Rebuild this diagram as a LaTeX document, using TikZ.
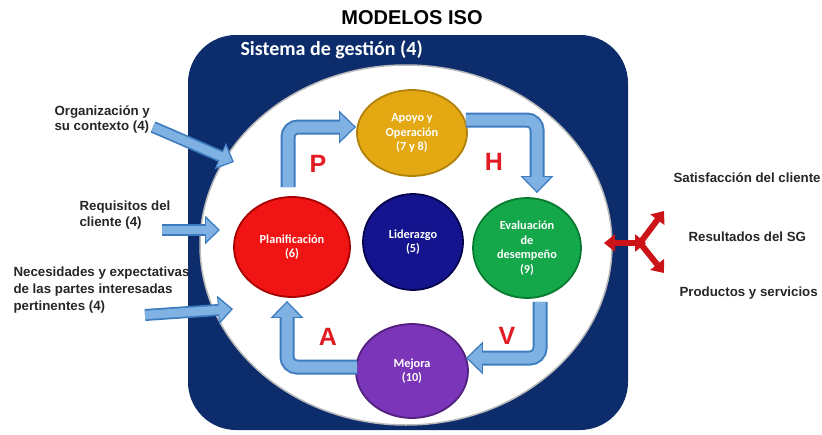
\documentclass[tikz,border=0pt]{standalone}
\usepackage{fontspec}
\setmainfont{Liberation Sans}
\newfontfamily\calfont{Carlito}
\usetikzlibrary{arrows.meta,shapes.geometric}
\definecolor{navybox}{HTML}{0C2C6C}
\definecolor{goldc}{HTML}{E3A812}
\definecolor{goldd}{HTML}{B0820A}
\definecolor{redc}{HTML}{F01414}
\definecolor{redd}{HTML}{A80000}
\definecolor{bluec}{HTML}{14148F}
\definecolor{blued}{HTML}{05054F}
\definecolor{greenc}{HTML}{14A84A}
\definecolor{greend}{HTML}{0B7A30}
\definecolor{purc}{HTML}{7B35B8}
\definecolor{purd}{HTML}{52207F}
\definecolor{arrblue}{HTML}{7FB2E2}
\definecolor{arredge}{HTML}{3E7CC0}
\definecolor{letred}{HTML}{E31B23}
\definecolor{arrred}{HTML}{CC1418}
\definecolor{txtgray}{HTML}{262626}
\begin{document}
\begin{tikzpicture}[x=1pt,y=-1pt,
  circ/.style={ellipse, inner sep=0pt, line width=1.8pt, text=white, align=center,
    font=\calfont\bfseries\fontsize{12.3}{14.5}\selectfont},
  bigarr/.style={line width=11pt, draw=arrblue, rounded corners=10pt, shorten >=2pt,
    -{Triangle[width=26pt,length=14pt]},
    preaction={draw=arredge, line width=15pt, shorten >=0pt,
      -{Triangle[width=32pt,length=17pt]}}},
  smallarr/.style={line width=8.5pt, draw=arrblue, shorten >=2pt,
    -{Triangle[width=22pt,length=12pt]},
    preaction={draw=arredge, line width=12pt, shorten >=0pt,
      -{Triangle[width=28pt,length=15pt]}}},
  redarr/.style={line width=6pt, draw=arrred},
  sidetxt/.style={anchor=west, align=left, text=txtgray,
    font=\bfseries\fontsize{13.3}{15}\selectfont},
  rtxt/.style={anchor=west, text=txtgray, font=\bfseries\fontsize{13.3}{15}\selectfont},
  letter/.style={text=letred, font=\bfseries\fontsize{25}{25}\selectfont}
]
\useasboundingbox (0,0) rectangle (822,434);

% title
\node[font=\bfseries\fontsize{20}{20}\selectfont] (title) at (412,18) {MODELOS ISO};

% management system box
\node[rectangle, rounded corners=48pt, fill=navybox, minimum width=440pt,
  minimum height=395pt, inner sep=0pt] (box) at (408,232.5) {};
\node[anchor=west, text=white, font=\calfont\bfseries\fontsize{20}{20}\selectfont]
  (sg) at (237,50) {Sistema de gestión (4)};

% white ellipse
\node[ellipse, fill=white, draw=gray!55, line width=1.5pt, inner sep=0pt,
  minimum width=412pt, minimum height=360pt] (env) at (406,245) {};

% circles
\node[circ, fill=goldc, draw=goldd, minimum width=110pt, minimum height=86pt]
  (apoyo) at (412,133) {Apoyo y\\Operación\\(7 y 8)};
\node[circ, fill=redc, draw=redd, minimum width=116pt, minimum height=100pt]
  (plan) at (292,247) {Planificación\\(6)};
\node[circ, fill=bluec, draw=blued, minimum width=100pt, minimum height=96pt]
  (lid) at (413,242) {Liderazgo\\(5)};
\node[circ, fill=greenc, draw=greend, minimum width=108pt, minimum height=100pt]
  (eval) at (527,248) {Evaluación\\de\\desempeño\\(9)};
\node[circ, fill=purc, draw=purd, minimum width=112pt, minimum height=94pt]
  (mejora) at (412,371) {Mejora\\(10)};

% PHVA cycle arrows
\draw[bigarr] ([xshift=-4pt,yshift=9pt]plan.north) |- ([yshift=6pt]apoyo.west);
\draw[bigarr] ([xshift=-2pt,yshift=13pt]apoyo.east) -| ([xshift=10pt,yshift=4pt]eval.north);
\draw[bigarr] ([xshift=13pt,yshift=-3pt]eval.south) |- ([xshift=-3pt,yshift=13pt]mejora.east);
\draw[bigarr] ([xshift=2pt,yshift=4pt]mejora.west) -| ([xshift=-5pt,yshift=-3pt]plan.south);

% letters
\node[letter] (P) at (318,164) {P};
\node[letter] (H) at (494,162) {H};
\node[letter] (V) at (507,336) {V};
\node[letter] (A) at (328,337) {A};

% left inputs
\node[sidetxt] (org) at (51,119.5) {Organización y\\su contexto (4)};
\node[sidetxt, font=\bfseries\fontsize{13.3}{16}\selectfont] (req) at (76,215) {Requisitos del\\cliente (4)};
\node[sidetxt, font=\bfseries\fontsize{13.3}{17}\selectfont] (nec) at (10,290.5)
  {Necesidades y expectativas\\de las partes interesadas\\pertinentes (4)};
\coordinate (orgA) at (153,127);
\coordinate (orgB) at (234,162);
\coordinate (reqA) at (162,230);
\coordinate (reqB) at (220,230);
\coordinate (necA) at (145,315);
\coordinate (necB) at (233,309);
\draw[smallarr] (orgA) -- (orgB);
\draw[smallarr] (reqA) -- (reqB);
\draw[smallarr] (necA) -- (necB);

% right outputs
\node[rtxt] (sat) at (670,178) {Satisfacción del cliente};
\node[rtxt] (res) at (685,237) {Resultados del SG};
\node[rtxt] (prod) at (676,293) {Productos y servicios};
\coordinate (rL) at (604,243);
\coordinate (rR) at (646,243);
\coordinate (rJ) at (640,243);
\coordinate (rU) at (664,211);
\coordinate (rD) at (664,273);
\draw[redarr, {Triangle[width=17pt,length=11pt]}-{Triangle[width=17pt,length=11pt]}] (rL) -- (rR);
\draw[redarr, -{Triangle[width=17pt,length=11pt]}] (rJ) -- (rU);
\draw[redarr, -{Triangle[width=17pt,length=11pt]}] (rJ) -- (rD);
\end{tikzpicture}
\end{document}
